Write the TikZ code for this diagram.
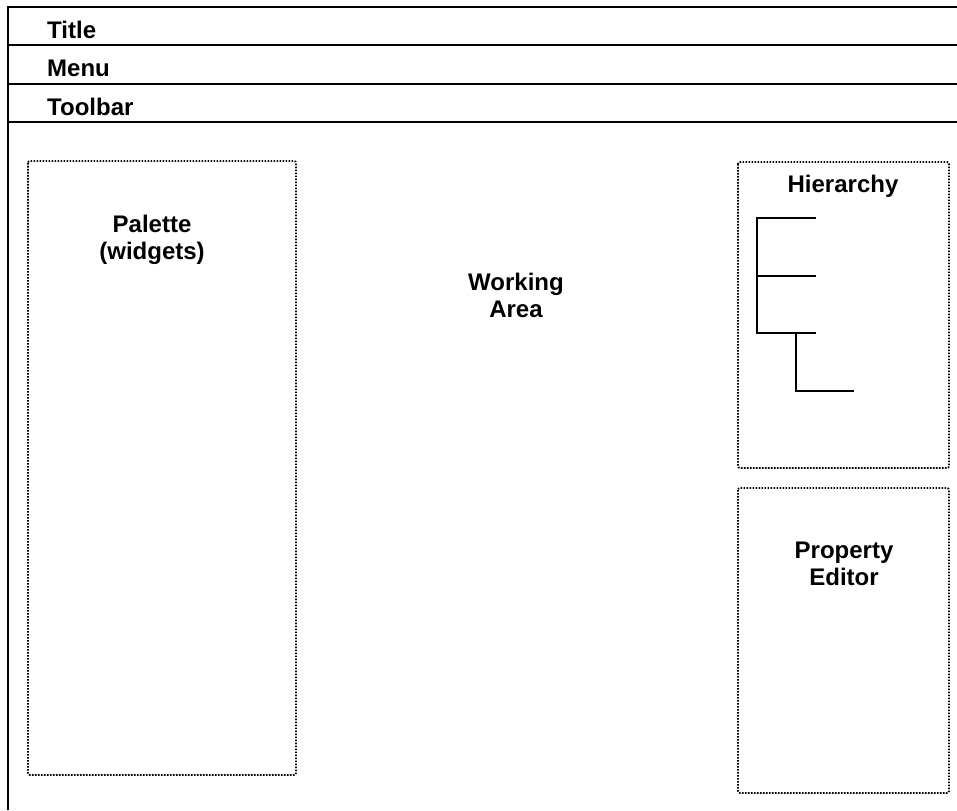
\documentclass[tikz,border=0pt]{standalone}
\usepackage{fontspec}
\setmainfont{Liberation Sans}
\begin{document}
\begin{tikzpicture}[x=1pt,y=-1pt,
  frame/.style={line width=1.8pt,black},
  panel/.style={draw,line width=1.8pt,dash pattern=on 1.6pt off 1.4pt,rounded corners=2pt},
  lbl/.style={font=\fontsize{24}{27}\selectfont\bfseries,inner sep=0pt,align=center},
  tree/.style={line width=1.5pt}]
\useasboundingbox (0,0) rectangle (957,810);
% frame
\coordinate (fbl) at (8,810);
\coordinate (ftl) at (8,7);
\coordinate (ftr) at (957,7);
\coordinate (m1l) at (8,45);  \coordinate (m1r) at (957,45);
\coordinate (m2l) at (8,84);  \coordinate (m2r) at (957,84);
\coordinate (m3l) at (8,122); \coordinate (m3r) at (957,122);
\draw[frame] (fbl) -- (ftl) -- (ftr);
\draw[frame] (m1l) -- (m1r);
\draw[frame] (m2l) -- (m2r);
\draw[frame] (m3l) -- (m3r);
\node[lbl,anchor=base west] (title) at (47,39) {Title};
\node[lbl,anchor=base west] (menu) at (47,77) {Menu};
\node[lbl,anchor=base west] (toolbar) at (47,116) {Toolbar};
% panels
\draw[panel] (28,161) rectangle (296,775);
\draw[panel] (738,162) rectangle (949,468);
\draw[panel] (738,488) rectangle (949,793);
\node[lbl] (palette) at (152,240) {Palette\\(widgets)};
\node[lbl] (work) at (516,295) {Working\\Area};
\node[lbl,anchor=base] (hier) at (843,193) {Hierarchy};
\node[lbl] (prop) at (844,564) {Property\\Editor};
% tree
\coordinate (t1) at (757,218); \coordinate (t1e) at (816,218);
\coordinate (t2) at (757,276); \coordinate (t2e) at (816,276);
\coordinate (t3) at (757,333); \coordinate (t3e) at (816,333);
\coordinate (s1) at (796,333); \coordinate (s2) at (796,391); \coordinate (s2e) at (854,391);
\draw[tree] (t1e) -- (t1) -- (t3) -- (t3e);
\draw[tree] (t2) -- (t2e);
\draw[tree] (s1) -- (s2) -- (s2e);
\end{tikzpicture}
\end{document}
